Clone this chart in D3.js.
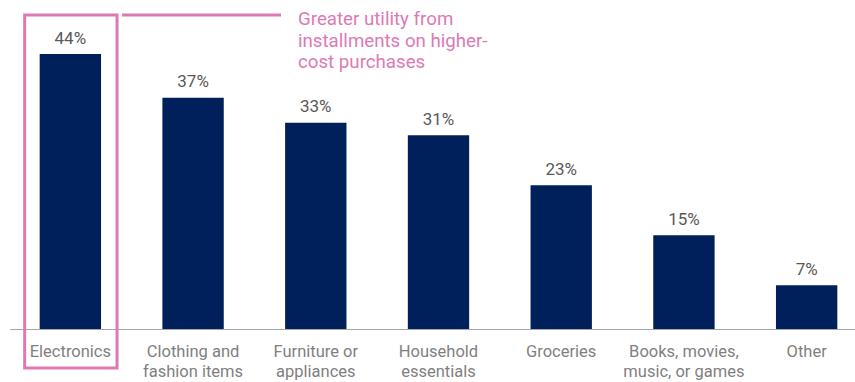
<!DOCTYPE html>
<meta charset="utf-8">
<head>
  <title>Installment purchase categories</title>
  <style>
    body { margin: 0; background: #fff; }
    text { font-family: Roboto, "Noto Sans", sans-serif; }
  </style>
</head>
<body>
<script src="https://cdn.jsdelivr.net/npm/d3@7"></script>
<script>
var WIDTH = 855,
    HEIGHT = 382,
    BASELINE = 329;

var categories = ["Electronics", "Clothing and\nfashion items", "Furniture or\nappliances",
                  "Household\nessentials", "Groceries", "Books, movies,\nmusic, or games", "Other"];
var values = [44, 37, 33, 31, 23, 15, 7];
var valueLabels = ["44%", "37%", "33%", "31%", "23%", "15%", "7%"];
var note = ["Greater utility from", "installments on higher-", "cost purchases"];

var BAR = "#00205b",
    PINK = "#dd7ab4";

var svg = d3.select("body").append("svg")
    .attr("width", WIDTH)
    .attr("height", HEIGHT);

var x = d3.scaleBand()
    .domain(categories)
    .range([9, 868])
    .paddingInner(0.5)
    .paddingOuter(0.25);

var y = d3.scaleLinear()
    .domain([0, 44])
    .range([BASELINE, 54]);

// bars
svg.selectAll("rect.bar")
    .data(values)
  .enter().append("rect")
    .attr("class", "bar")
    .attr("x", function(d, i) { return x(categories[i]); })
    .attr("y", function(d) { return y(d); })
    .attr("width", x.bandwidth())
    .attr("height", function(d) { return y(0) - y(d); })
    .attr("fill", BAR);

// value labels
svg.selectAll("text.val")
    .data(values)
  .enter().append("text")
    .attr("class", "val")
    .attr("x", function(d, i) { return x(categories[i]) + x.bandwidth() / 2; })
    .attr("y", function(d) { return y(d) - 10.5; })
    .attr("text-anchor", "middle")
    .attr("font-size", 17)
    .attr("fill", "#595959")
    .text(function(d, i) { return valueLabels[i]; });

// baseline
svg.append("line")
    .attr("x1", 10).attr("x2", WIDTH)
    .attr("y1", BASELINE + 0.5).attr("y2", BASELINE + 0.5)
    .attr("stroke", "#a6a6a6")
    .attr("stroke-width", 1);

// category labels
var cat = svg.selectAll("text.cat")
    .data(categories)
  .enter().append("text")
    .attr("class", "cat")
    .attr("text-anchor", "middle")
    .attr("font-size", 16.5)
    .attr("fill", "#7f7f7f");

cat.selectAll("tspan")
    .data(function(d) { return d.split("\n").map(function(s) { return { s: s, c: d }; }); })
  .enter().append("tspan")
    .attr("x", function(d) { return x(d.c) + x.bandwidth() / 2; })
    .attr("y", function(d, i) { return 357 + i * 20; })
    .text(function(d) { return d.s; });

// highlight box around first category
var bx0 = x(categories[0]) - 15,
    bx1 = x(categories[0]) + x.bandwidth() + 16;

svg.append("rect")
    .attr("x", bx0)
    .attr("y", 15)
    .attr("width", bx1 - bx0)
    .attr("height", 353)
    .attr("fill", "none")
    .attr("stroke", PINK)
    .attr("stroke-width", 3);

svg.append("line")
    .attr("x1", bx1 + 5).attr("x2", 281)
    .attr("y1", 15).attr("y2", 15)
    .attr("stroke", PINK)
    .attr("stroke-width", 3);

svg.append("text")
    .attr("font-size", 18.7)
    .attr("fill", PINK)
  .selectAll("tspan")
    .data(note)
  .enter().append("tspan")
    .attr("x", 298)
    .attr("y", function(d, i) { return 25 + i * 21.7; })
    .text(function(d) { return d; });
</script>
</body>
